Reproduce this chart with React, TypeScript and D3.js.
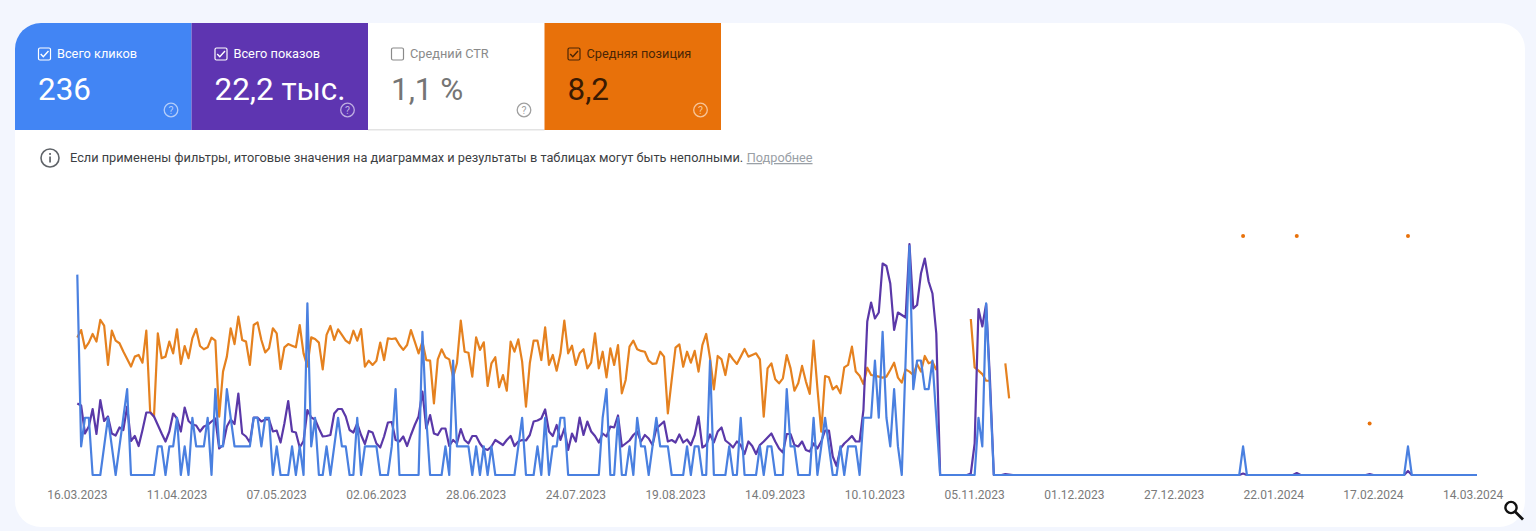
import * as d3 from "d3";

const tileLabels = ["Всего кликов", "Всего показов", "Средний CTR", "Средняя позиция"];
const tileValues = ["236", "22,2 тыс.", "1,1 %", "8,2"];
const tileChecked = [true, true, false, true];

const tickLabels = [
    "16.03.2023", "11.04.2023", "07.05.2023", "02.06.2023", "28.06.2023",
    "24.07.2023", "19.08.2023", "14.09.2023", "10.10.2023", "05.11.2023",
    "01.12.2023", "27.12.2023", "22.01.2024", "17.02.2024", "14.03.2024",
];

const firstDay = "16.03.2023";
const lastDay = "15.03.2024";

const clicks = [
    7, 1, 2, 2, 0, 0, 0, 1, 2, 1,
    0, 1, 2, 3, 0, 0, 0, 0, 0, 0,
    0, 1, 1, 0, 1, 1, 2, 0, 1, 0,
    2, 1, 1, 1, 2, 0, 3, 1, 1, 3,
    2, 1, 1, 1, 1, 1, 2, 2, 1, 2,
    2, 0, 1, 0, 0, 0, 1, 0, 1, 0,
    6, 1, 2, 0, 0, 1, 0, 1, 2, 1,
    1, 0, 0, 2, 0, 1, 1, 1, 1, 0,
    0, 0, 1, 3, 0, 0, 0, 0, 0, 0,
    5, 2, 0, 0, 0, 0, 1, 0, 4, 1,
    1, 1, 1, 0, 1, 0, 1, 0, 1, 0,
    0, 0, 0, 0, 0, 1, 2, 0, 0, 0,
    1, 0, 2, 0, 1, 1, 2, 2, 0, 0,
    0, 0, 0, 0, 0, 0, 0, 2, 3, 0,
    0, 2, 0, 0, 1, 0, 2, 1, 1, 0,
    1, 2, 1, 1, 1, 0, 0, 0, 0, 1,
    0, 1, 1, 0, 0, 4, 0, 0, 0, 0,
    1, 0, 0, 2, 0, 0, 0, 0, 1, 0,
    1, 1, 0, 0, 0, 3, 1, 1, 0, 0,
    0, 0, 2, 0, 1, 2, 1, 0, 0, 1,
    0, 1, 1, 1, 0, 2, 2, 2, 4, 2,
    5, 2, 1, 3, 1, 0, 4, 8, 3, 4,
    4, 3, 3, 4, 2, 0, 0, 0, 0, 0,
    0, 0, 0, 0, 0, 2, 1, 6, 3, 0,
    0, 0, 0, 0,
    0, 0, 0, 0, 0, 0, 0, 0, 0, 0, 0, 0, 0, 0, 0, 0, 0, 0, 0, 0,
    0, 0, 0, 0, 0, 0, 0, 0, 0, 0, 0, 0, 0, 0, 0, 0, 0, 0, 0, 0,
    0, 0, 0, 0, 0, 0, 0, 0, 0, 0, 0, 0, 0, 0, 0, 0, 0, 0, 0, 0,
    1,
    0, 0, 0, 0, 0, 0, 0, 0, 0, 0, 0, 0, 0, 0, 0, 0, 0, 0, 0, 0,
    0, 0, 0, 0, 0, 0, 0, 0, 0, 0, 0, 0, 0, 0, 0, 0, 0, 0, 0, 0,
    0, 0,
    1,
    0, 0, 0, 0, 0, 0, 0, 0, 0, 0, 0, 0, 0, 0, 0, 0, 0, 0,
];

const impressions = [
    143, 139, 83, 97, 132, 82, 150, 108, 117, 83,
    79, 95, 90, 137, 68, 78, 58, 90, 125, 125,
    117, 100, 83, 67, 87, 123, 113, 87, 135, 108,
    101, 99, 87, 97, 100, 107, 113, 53, 60, 97,
    111, 102, 163, 83, 77, 65, 115, 115, 107, 111,
    111, 87, 89, 65, 103, 148, 87, 85, 55, 68,
    130, 115, 111, 93, 77, 78, 80, 123, 132, 132,
    117, 90, 85, 103, 80, 62, 88, 85, 63, 55,
    77, 105, 106, 70, 67, 77, 58, 80, 100, 117,
    167, 93, 120, 83, 80, 93, 93, 58, 70, 63,
    92, 70, 63, 78, 78, 63, 53, 50, 57, 70,
    65, 60, 70, 78, 58, 67, 70, 69, 80, 107,
    109, 113, 131, 87, 78, 100, 70, 93, 50, 83,
    67, 115, 80, 107, 87, 78, 65, 83, 77, 97,
    95, 119, 57, 63, 69, 80, 87, 67, 80, 73,
    60, 93, 100, 107, 67, 70, 65, 81, 65, 71,
    60, 80, 117, 55, 60, 81, 65, 87, 95, 69,
    63, 55, 67, 60, 42, 67, 58, 42, 60, 67,
    75, 83, 67, 53, 45, 82, 82, 60, 57, 67,
    50, 47, 63, 53, 67, 89, 89, 37, 18, 53,
    63, 70, 78, 67, 67, 130, 307, 345, 313, 325,
    423, 418, 383, 290, 325, 320, 315, 462, 333, 340,
    403, 433, 387, 363, 283, 0, 0, 0, 0, 0,
    0, 0, 0, 3, 63, 332, 297, 342, 190, 0,
    0, 0, 2, 1,
    0, 0, 0, 0, 0, 0, 0, 0, 0, 0, 0, 0, 0, 0, 0, 0, 0, 0, 0, 0,
    0, 0, 0, 0, 0, 0, 0, 0, 0, 0, 0, 0, 0, 0, 0, 0, 0, 0, 0, 0,
    0, 0, 0, 0, 0, 0, 0, 0, 0, 0, 0, 0, 0, 0, 0, 0, 0, 0, 0, 0,
    3,
    0, 0, 0, 0, 0, 0, 0, 0, 0, 0, 0, 0, 0,
    4,
    0, 0, 0, 0, 0, 0, 0, 0, 0, 0, 0, 0, 0, 0, 0, 0, 0, 0,
    2,
    0, 0, 0, 0, 0, 0, 0, 0, 0,
    8,
    0, 0, 0, 0, 0, 0, 0, 0, 0, 0, 0, 0, 0, 0, 0, 0, 0, 0,
];

const _ = null;
const positions: (number | null)[] = [
    7.22, 6.77, 7.89, 7.54, 7.01, 7.48, 6.15, 6.5, 8.91, 6.81,
    7.42, 7.58, 8.09, 8.54, 9.01, 8.4, 8.3, 8.77, 6.81, 11.77,
    12.08, 6.97, 8.5, 8.4, 7.48, 8.2, 6.72, 8.85, 7.75, 8.5,
    7.28, 6.7, 7.75, 7.95, 7.83, 7.24, 7.42, 12.08, 9.32, 8.4,
    6.66, 7.63, 5.95, 7.38, 7.48, 8.91, 6.46, 6.3, 7.38, 8.14,
    7.89, 6.66, 6.97, 9.16, 7.83, 7.63, 7.73, 7.83, 6.46, 8.2,
    9.01, 7.22, 7.32, 7.54, 9.18, 7.07, 6.52, 7.38, 6.73, 7.07,
    7.42, 7.58, 6.81, 7.42, 6.71, 9.02, 8.65, 8.91, 8.65, 7.54,
    8.61, 7.28, 7.32, 7.28, 7.69, 7.99, 7.69, 6.77, 7.48, 8.2,
    7.48, 8.61, 8.65, 11.27, 8.57, 7.95, 8.44, 8.57, 9.67, 8.81,
    6.19, 8.1, 8.16, 9.63, 7.22, 7.99, 7.52, 10.2, 8.81, 8.44,
    10.28, 9.53, 10.49, 7.48, 8.1, 7.34, 8.71, 11.47, 8.81, 7.42,
    7.42, 8.61, 6.6, 8.91, 8.3, 9.26, 8.2, 6.19, 8.2, 7.73,
    8.91, 8.2, 7.95, 9.12, 8.77, 6.97, 9.12, 8.1, 9.67, 7.89,
    8.91, 7.69, 10.65, 9.83, 7.79, 7.42, 7.95, 8.05, 8.1, 8.65,
    8.85, 8.81, 8.1, 8.4, 11.88, 9.83, 7.85, 7.65, 9.02, 8.1,
    8.77, 8.05, 9.32, 7.69, 7.01, 8.5, 10.41, 8.36, 8.57, 9.53,
    8.24, 8.57, 8.85, 8.4, 7.93, 8.4, 8.3, 8.2, 8.57, 12.08,
    9.12, 8.81, 9.79, 10.04, 9.73, 8.3, 9.12, 10.49, 10.04, 8.97,
    9.93, 10.69, 7.42, 10.34, 13.0, 9.59, 9.67, 10.41, 10.2, 10.65,
    9.06, 8.91, 7.79, 9.32, 9.57, 10.08, 9.08, 9.53, 9.57, 9.63,
    9.69, 9.63, 9.22, 8.77, 9.69, 10.0, 9.18, 9.32, 9.53, 8.85,
    9.32, 8.36, 8.81, 8.71, 9.22, _, _, _, _, _,
    _, _, _, 6.09, 9.06, 9.26, 9.47, 9.88, 9.88, _,
    _, _, 8.81, 10.96,
    _, _, _, _, _, _, _, _, _, _, _, _, _, _, _, _, _, _, _, _,
    _, _, _, _, _, _, _, _, _, _, _, _, _, _, _, _, _, _, _, _,
    _, _, _, _, _, _, _, _, _, _, _, _, _, _, _, _, _, _, _, _,
    1,
    _, _, _, _, _, _, _, _, _, _, _, _, _,
    1,
    _, _, _, _, _, _, _, _, _, _, _, _, _, _, _, _, _, _,
    12.51,
    _, _, _, _, _, _, _, _, _,
    1,
    _, _, _, _, _, _, _, _, _, _, _, _, _, _, _, _, _, _,
];

const TILE_BLUE = "#4285f4";
const TILE_PURPLE = "#5e35b1";
const TILE_ORANGE = "#e8710a";
const LINE_BLUE = "#4a80e0";
const LINE_PURPLE = "#5a38a8";
const LINE_ORANGE = "#e5811f";
const FONT = "Roboto, sans-serif";

const parseDay = d3.utcParse("%d.%m.%Y");
const startDate = parseDay(firstDay) as Date;
const dayAt = (i: number) => d3.utcDay.offset(startDate, i);

const x = d3
    .scaleUtc()
    .domain([startDate, parseDay(lastDay) as Date])
    .range([77.3, 1477]);
const yClicks = d3.scaleLinear().domain([0, 8]).range([475, 246]);
const yImpressions = d3.scaleLinear().domain([0, 500]).range([475, 225]);
const yPosition = d3.scaleLinear().domain([1, 15]).range([236, 464.2]);

const tileX = d3.scaleLinear().domain([0, 4]).range([15, 721]);

const tileStyles = [
    { fill: TILE_BLUE, label: "#fff", value: "#fff", box: "#fff", help: "#b3cdf9" },
    { fill: TILE_PURPLE, label: "#fff", value: "#fff", box: "#fff", help: "#bfaee2" },
    { fill: "#fff", label: "#8a8a8a", value: "#757575", box: "#8a8a8a", help: "#a0a0a0" },
    { fill: TILE_ORANGE, label: "#4a2505", value: "#3a1a02", box: "#4a2505", help: "#f7c598" },
];

function lineFor(values: (number | null)[], y: d3.ScaleLinear<number, number>) {
    return d3
        .line<number | null>()
        .defined((d) => d !== null)
        .x((d, i) => x(dayAt(i)))
        .y((d) => y(d as number))(values) as string;
}

export default function App() {
    // days with a position but no neighbours show up as single dots
    const lonePoints = positions
        .map((p, i) => ({ p, i }))
        .filter(
            ({ p, i }) =>
                p !== null &&
                (positions[i - 1] ?? null) === null &&
                (positions[i + 1] ?? null) === null,
        );

    return (
        <svg
            width={1536}
            height={531}
            style={{ position: "absolute", left: 0, top: 0, display: "block" }}
            fontFamily={FONT}
        >
            <defs>
                <clipPath id="card-clip">
                    <rect x={15} y={23} width={1510} height={504} rx={26} />
                </clipPath>
            </defs>
            <rect width={1536} height={531} fill="#f3f6fe" />
            <rect x={15} y={23} width={1510} height={504} rx={26} fill="#fff" />

            {/* metric tiles */}
            <g clipPath="url(#card-clip)">
                {tileLabels.map((label, i) => {
                    const s = tileStyles[i];
                    const left = tileX(i);
                    const w = tileX(i + 1) - left;
                    return (
                        <g key={label}>
                            <rect x={left} y={23} width={w} height={107} fill={s.fill} />
                            {i === 2 && (
                                <rect x={left} y={129} width={w} height={1.5} fill="#e3e3e3" />
                            )}
                            <rect
                                x={left + 23.5}
                                y={48}
                                width={12}
                                height={12}
                                rx={1.5}
                                fill="none"
                                stroke={s.box}
                                strokeWidth={1.2}
                            />
                            {tileChecked[i] && (
                                <path
                                    d={`M${left + 25.7},54 l2.6,2.8 l5.2,-5.8`}
                                    fill="none"
                                    stroke={s.box}
                                    strokeWidth={1.4}
                                />
                            )}
                            <text x={left + 42} y={58} fontSize={12.75} fill={s.label}>
                                {label}
                            </text>
                            <text x={left + 23} y={99.5} fontSize={31.4} fill={s.value}>
                                {tileValues[i]}
                            </text>
                            <circle
                                cx={left + 156}
                                cy={110}
                                r={6.8}
                                fill="none"
                                stroke={s.help}
                                strokeWidth={1.3}
                            />
                            <text
                                x={left + 156}
                                y={113.8}
                                fontSize={10.5}
                                textAnchor="middle"
                                fill={s.help}
                            >
                                ?
                            </text>
                        </g>
                    );
                })}
            </g>

            {/* notice row */}
            <circle cx={50} cy={158} r={9} fill="none" stroke="#5f6368" strokeWidth={1.6} />
            <rect x={49.2} y={156.5} width={1.7} height={6} fill="#5f6368" />
            <rect x={49.2} y={153} width={1.7} height={1.9} fill="#5f6368" />
            <text x={70} y={162} fontSize={12.75} fill="#3c4043">
                Если применены фильтры, итоговые значения на диаграммах и результаты в таблицах могут быть неполными.
                <tspan dx={3.5} fill="#9aa0a6" textDecoration="underline">
                    Подробнее
                </tspan>
            </text>

            {/* series */}
            <g fill="none" strokeWidth={2.2} strokeLinejoin="round">
                <path d={lineFor(positions, yPosition)} stroke={LINE_ORANGE} />
                {lonePoints.map(({ p, i }) => (
                    <circle
                        key={i}
                        cx={x(dayAt(i))}
                        cy={yPosition(p as number)}
                        r={2}
                        fill={TILE_ORANGE}
                    />
                ))}
                <path d={lineFor(impressions, yImpressions)} stroke={LINE_PURPLE} />
                <path d={lineFor(clicks, yClicks)} stroke={LINE_BLUE} />
            </g>

            {/* x axis labels */}
            <g fontSize={12} fill="#7a7a7a" textAnchor="middle">
                {tickLabels.map((t) => (
                    <text key={t} x={x(parseDay(t) as Date)} y={499}>
                        {t}
                    </text>
                ))}
            </g>

            {/* zoom icon */}
            <circle cx={1511} cy={507.5} r={5.6} fill="none" stroke="#111" strokeWidth={2.4} />
            <line x1={1515.2} y1={511.8} x2={1523} y2={519.5} stroke="#111" strokeWidth={2.8} />
        </svg>
    );
}
